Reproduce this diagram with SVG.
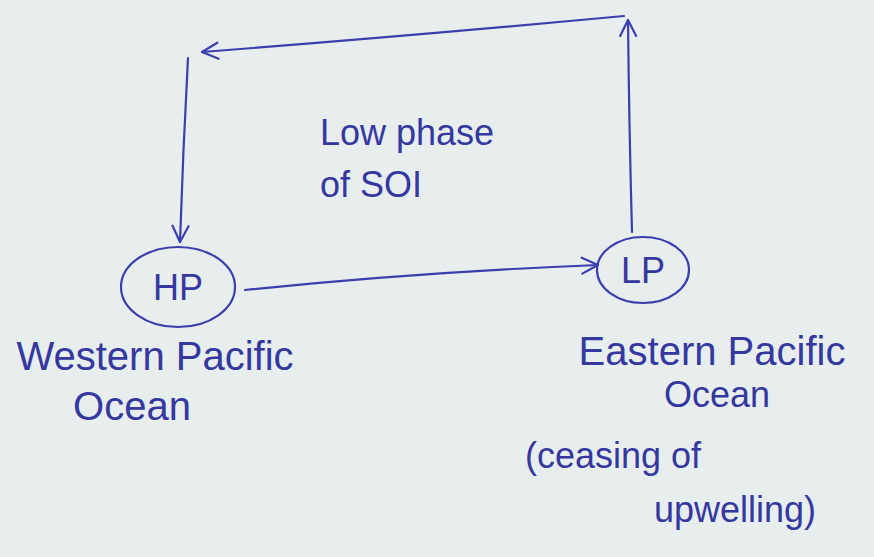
<svg xmlns="http://www.w3.org/2000/svg" width="874" height="557" viewBox="0 0 874 557">
<style>
.ink{stroke:#3b3fae;stroke-width:2.2;fill:none;stroke-linecap:round;stroke-linejoin:round}
.t{font-family:"Liberation Sans","DejaVu Sans",sans-serif;fill:#34389f;font-size:36px}
.m{text-anchor:middle}
</style>
<defs>
<marker id="ah" viewBox="0 0 20 20" refX="18" refY="10" markerWidth="20" markerHeight="20" markerUnits="userSpaceOnUse" orient="auto">
<path d="M2,2 L18,10 L2,18" class="ink"/>
</marker>
</defs>
<rect width="874" height="557" fill="#e8edee"/>
<g id="connectors">
<path class="ink" d="M245,290 Q420,272 598,265" marker-end="url(#ah)"/>
<path class="ink" d="M632,232 Q629,120 628,20" marker-end="url(#ah)"/>
<path class="ink" d="M624,16 Q420,35 202,52" marker-end="url(#ah)"/>
<path class="ink" d="M188,58 Q183,150 180,242" marker-end="url(#ah)"/>
</g>
<g id="hp">
<ellipse class="ink" cx="178" cy="287" rx="57" ry="40"/>
<text class="t m" x="178" y="300">HP</text>
</g>
<g id="lp">
<ellipse class="ink" cx="643" cy="270" rx="46" ry="33"/>
<text class="t m" x="643" y="283">LP</text>
</g>
<g id="label-soi">
<text class="t" x="320" y="145">Low phase</text>
<text class="t" x="320" y="197">of SOI</text>
</g>
<g id="label-west">
<text class="t m" x="155" y="370" style="font-size:40px">Western Pacific</text>
<text class="t m" x="132" y="420" style="font-size:40px">Ocean</text>
</g>
<g id="label-east">
<text class="t m" x="712" y="365" style="font-size:40px">Eastern Pacific</text>
<text class="t m" x="717" y="407">Ocean</text>
<text class="t" x="525" y="468">(ceasing of</text>
<text class="t m" x="735" y="522">upwelling)</text>
</g>
</svg>
